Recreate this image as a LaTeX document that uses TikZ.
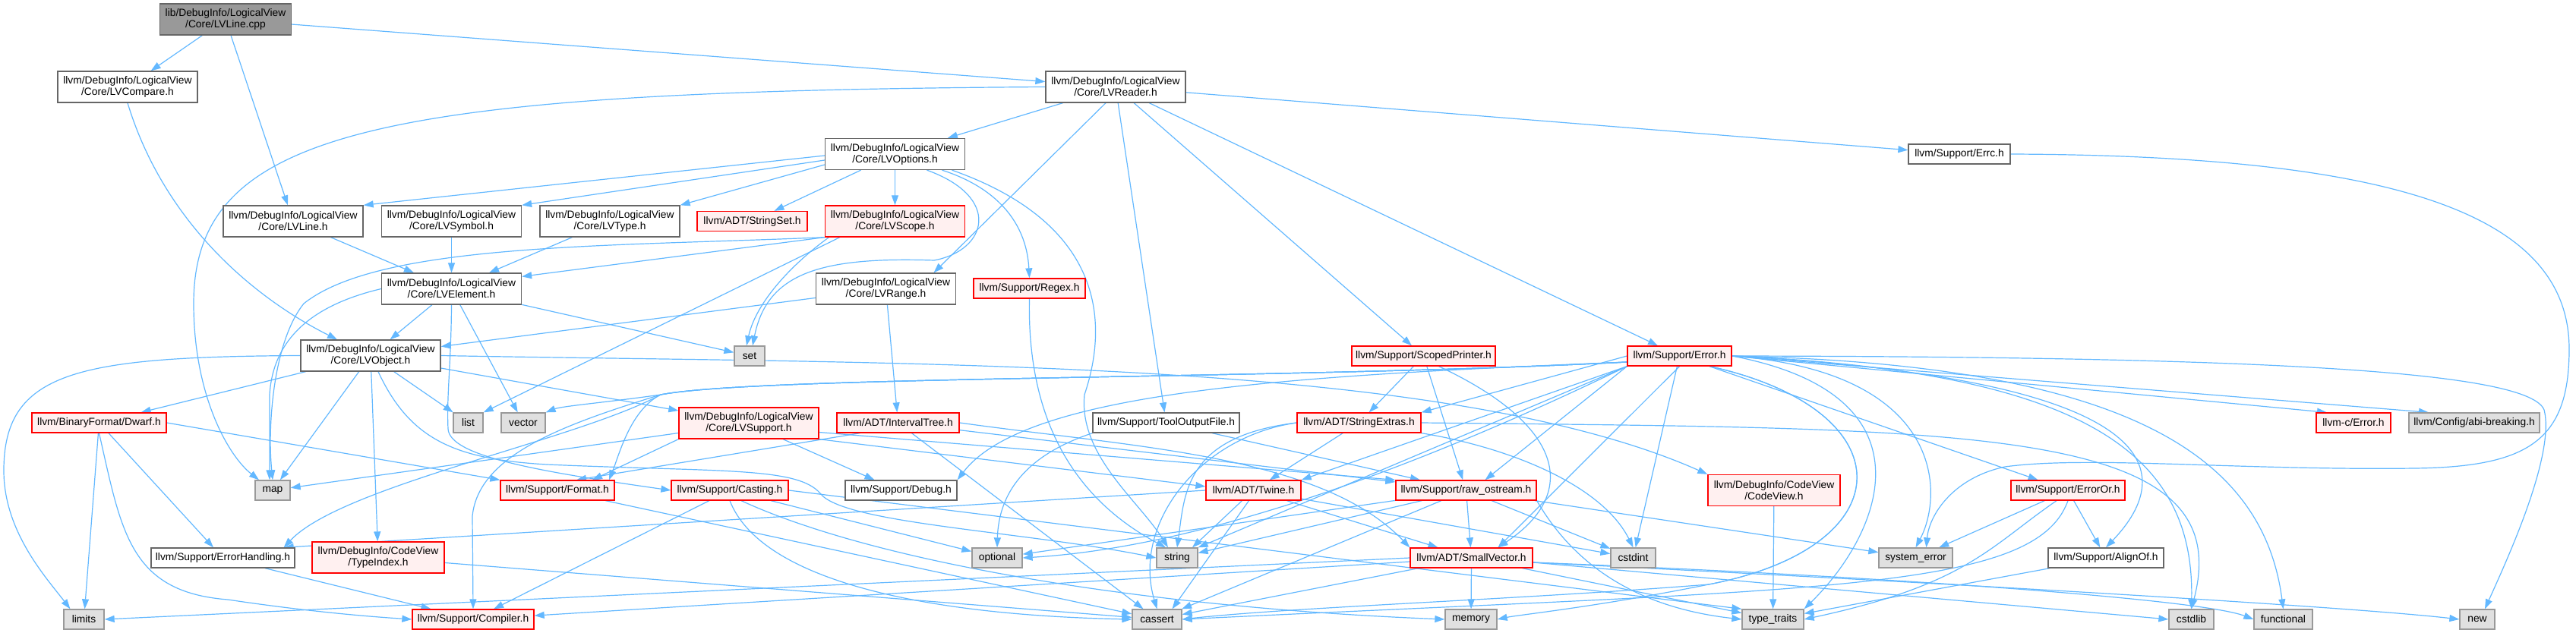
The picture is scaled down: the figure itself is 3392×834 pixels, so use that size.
\documentclass[tikz,border=0pt]{standalone}
\usepackage{fontspec}
\setmainfont{Liberation Sans}
\usetikzlibrary{arrows.meta}
\pgfdeclarelayer{bg}
\pgfsetlayers{bg,main}
\definecolor{edgec}{HTML}{63B8FF}
\definecolor{redfill}{HTML}{FFF0F0}
\definecolor{graybg}{HTML}{E0E0E0}
\definecolor{grayline}{HTML}{999999}
\definecolor{darkline}{HTML}{666666}
\definecolor{rootfill}{HTML}{999999}
\tikzset{
 nd/.style={rectangle, line width=1.3pt, inner sep=0pt, align=center, font=\fontsize{13.8pt}{15pt}\selectfont, text=black},
 wn/.style={nd, fill=white, draw=darkline},
 rn/.style={nd, fill=redfill, draw=red},
 gn/.style={nd, fill=graybg, draw=grayline},
 rootn/.style={nd, fill=rootfill, draw=darkline},
 two/.style={minimum width=184pt, minimum height=41pt},
 one/.style={minimum height=26pt, minimum width=#1},
 e/.style={draw=edgec, line width=1.2pt, -{Triangle[length=13pt,width=9pt]}},
}
\begin{document}
\begin{tikzpicture}[x=1pt,y=-1pt]
\useasboundingbox (0,0) rectangle (3392,834);
% nodes
\node[rootn, minimum width=173pt, minimum height=41pt] (cpp) at (297,25.5) {lib/DebugInfo/LogicalView\\/Core/LVLine.cpp};
\node[wn,two] (cmp) at (168,114.5) {llvm/DebugInfo/LogicalView\\/Core/LVCompare.h};
\node[wn,two] (reader) at (1469,114.5) {llvm/DebugInfo/LogicalView\\/Core/LVReader.h};
\node[wn,two] (options) at (1178.5,203) {llvm/DebugInfo/LogicalView\\/Core/LVOptions.h};
\node[wn,one=134pt] (errc) at (2580,203) {llvm/Support/Errc.h};
\node[wn,two] (lvline) at (386,291.5) {llvm/DebugInfo/LogicalView\\/Core/LVLine.h};
\node[wn,two] (symbol) at (594.5,291.5) {llvm/DebugInfo/LogicalView\\/Core/LVSymbol.h};
\node[wn,two] (type) at (803,291.5) {llvm/DebugInfo/LogicalView\\/Core/LVType.h};
\node[rn,one=145pt] (strset) at (990.5,291.5) {llvm/ADT/StringSet.h};
\node[rn,two] (scope) at (1178.5,291.5) {llvm/DebugInfo/LogicalView\\/Core/LVScope.h};
\node[wn,two] (element) at (594.5,380.5) {llvm/DebugInfo/LogicalView\\/Core/LVElement.h};
\node[wn,two] (range) at (1166.5,380.5) {llvm/DebugInfo/LogicalView\\/Core/LVRange.h};
\node[rn,one=147pt] (regex) at (1355.5,380) {llvm/Support/Regex.h};
\node[wn,two] (object) at (488,468.5) {llvm/DebugInfo/LogicalView\\/Core/LVObject.h};
\node[gn,one=40pt] (set) at (987,469) {set};
\node[rn,one=189pt] (scoped) at (1874.5,469) {llvm/Support/ScopedPrinter.h};
\node[rn,one=137pt] (error) at (2211.5,469) {llvm/Support/Error.h};
\node[rn,one=177pt] (dwarf) at (130.5,557) {llvm/BinaryFormat/Dwarf.h};
\node[gn,one=39pt] (list) at (616.5,557) {list};
\node[gn,one=58pt] (vector) at (689,557) {vector};
\node[rn,two] (support) at (986,557.5) {llvm/DebugInfo/LogicalView\\/Core/LVSupport.h};
\node[rn,one=161pt] (interval) at (1182.5,557) {llvm/ADT/IntervalTree.h};
\node[wn,one=193pt] (tool) at (1535.5,557) {llvm/Support/ToolOutputFile.h};
\node[rn,one=163pt] (strext) at (1789.5,557) {llvm/ADT/StringExtras.h};
\node[rn,one=98pt] (cerror) at (3099,557) {llvm-c/Error.h};
\node[gn,one=172pt] (abi) at (3258,557) {llvm/Config/abi-breaking.h};
\node[gn,one=46pt] (map) at (359,646) {map};
\node[rn,one=150pt] (format) at (734,646) {llvm/Support/Format.h};
\node[rn,one=154pt] (casting) at (961,646) {llvm/Support/Casting.h};
\node[wn,one=147pt] (debug) at (1186.5,646) {llvm/Support/Debug.h};
\node[rn,one=125pt] (twine) at (1650.5,646) {llvm/ADT/Twine.h};
\node[rn,one=185pt] (raw) at (1930.5,646) {llvm/Support/raw\_ostream.h};
\node[rn,minimum width=174pt,minimum height=41pt] (codeview) at (2336,646) {llvm/DebugInfo/CodeView\\/CodeView.h};
\node[rn,one=150pt] (erroror) at (2723,646) {llvm/Support/ErrorOr.h};
\node[wn,one=189pt] (errh) at (293.5,735) {llvm/Support/ErrorHandling.h};
\node[rn,minimum width=174pt,minimum height=41pt] (typeidx) at (498,734.5) {llvm/DebugInfo/CodeView\\/TypeIndex.h};
\node[gn,one=66pt] (optional) at (1313,735) {optional};
\node[gn,one=54pt] (string) at (1550,735) {string};
\node[rn,one=161pt] (small) at (1937.5,735) {llvm/ADT/SmallVector.h};
\node[gn,one=59pt] (cstdint) at (2150.5,735) {cstdint};
\node[gn,one=97pt] (syserr) at (2522.5,735) {system\_error};
\node[wn,one=152pt] (alignof) at (2773,735) {llvm/Support/AlignOf.h};
\node[gn,one=53pt] (limits) at (110.5,816) {limits};
\node[rn,one=160pt] (compiler) at (623,816) {llvm/Support/Compiler.h};
\node[gn,one=65pt] (cassert) at (1523.5,816) {cassert};
\node[gn,one=68pt] (memory) at (1937,816) {memory};
\node[gn,one=81pt] (ttraits) at (2334.5,816) {type\_traits};
\node[gn,one=59pt] (cstdlib) at (2885.5,816) {cstdlib};
\node[gn,one=77pt] (functional) at (3006.5,816) {functional};
\node[gn,one=46pt] (new) at (3262,816) {new};
% edges
\begin{pgfonlayer}{bg}
\draw[e] (cpp) -- (cmp);
\draw[e] (cpp) -- (lvline);
\draw[e] (cpp) -- (reader);
\draw[e] (cmp.south) .. controls (215,290) and (330,390) .. ([xshift=-44pt]object.north);
\draw[e] (reader) -- (options);
\draw[e] ([xshift=-13pt]reader.south) -- ([xshift=63pt]range.north);
\draw[e] (reader) -- (errc);
\draw[e] (reader) -- (error);
\draw[e] (reader) -- (scoped);
\draw[e] (reader) -- (tool);
\draw[e] (reader.west) .. controls (500,120) and (255,170) .. (255,400) .. controls (255,520) and (300,600) .. ([xshift=-18pt]map.north);
\draw[e] ([yshift=-2pt]options.west) -- (lvline.north east);
\draw[e] ([yshift=-8pt]options.west) -- (symbol.north east);
\draw[e] ([yshift=-14pt]options.west) -- (type.north east);
\draw[e] (options) -- (strset);
\draw[e] (options) -- (scope);
\draw[e] ([xshift=62pt]options.south) .. controls (1320,250) and (1352,300) .. (regex.north);
\draw[e] ([xshift=42pt]options.south) .. controls (1320,260) and (1300,330) .. (1230,343) .. controls (1080,338) and (1010,360) .. ([xshift=4pt]set.north);
\draw[e] ([xshift=75pt]options.south) .. controls (1440,290) and (1465,410) .. (1428,520) .. controls (1420,600) and (1500,660) .. ([xshift=-12pt]string.north);
\draw[e] (lvline) -- (element);
\draw[e] (symbol) -- (element);
\draw[e] (type) -- (element);
\draw[e] (scope.south west) -- ([yshift=-5pt]element.north east);
\draw[e] ([xshift=20pt]scope.south west) -- (list.north east);
\draw[e] (scope.south west) .. controls (800,325) and (500,320) .. (400,400) .. controls (360,450) and (352,560) .. (map.north);
\draw[e] ([xshift=-87pt]scope.south) .. controls (1040,350) and (995,400) .. ([xshift=-4pt]set.north);
\draw[e] (element) -- (object);
\draw[e] (element) -- (vector);
\draw[e] (element) -- (set);
\draw[e] (element.west) .. controls (420,400) and (360,440) .. (355,520) -- ([xshift=-4pt]map.north);
\draw[e] (element.south) .. controls (594,480) and (588,520) .. (590,565) .. controls (592,600) and (700,620) .. (casting.west);
\draw[e] (range) -- (interval);
\draw[e] (range) -- (object);
\draw[e] (regex.south) .. controls (1352,560) and (1420,660) .. ([xshift=-15pt]string.north);
\draw[e] (errc.east) .. controls (3150,205) and (3383,280) .. (3383,460) .. controls (3383,580) and (3330,615) .. (3180,617) .. controls (2950,620) and (2750,600) .. (2640,615) .. controls (2570,630) and (2540,680) .. ([xshift=14pt]syserr.north);
% LVObject
\draw[e] (object.west) .. controls (100,470) and (5,490) .. (5,620) .. controls (5,700) and (60,760) .. ([xshift=-18pt]limits.north);
\draw[e] (object) -- (dwarf);
\draw[e] (object) -- (list);
\draw[e] (object) -- (map);
\draw[e] (object) -- (typeidx);
\draw[e] (object) -- (support);
\draw[e] ([xshift=10pt]object.south) .. controls (540,580) and (600,605) .. (720,612) .. controls (950,622) and (1050,615) .. (1080,650) .. controls (1110,690) and (1350,700) .. (string.west);
\draw[e] (object.east) .. controls (1200,480) and (1900,470) .. (codeview.north west);
% Dwarf
\draw[e] (dwarf) -- (limits);
\draw[e] (dwarf) -- (errh);
\draw[e] (dwarf.east) -- (format.north west);
\draw[e] (dwarf.south) .. controls (160,700) and (170,780) .. (300,790) .. controls (400,805) and (480,812) .. (compiler.west);
% LVSupport
\draw[e] (support) -- (map);
\draw[e] (support.south west) -- ([xshift=46pt]format.north);
\draw[e] ([xshift=45pt]support.south) -- ([xshift=-35pt]debug.north);
\draw[e] (support.south east) -- ([yshift=5pt]twine.west);
\draw[e] ([yshift=-12pt]support.east) -- (raw.north west);
% IntervalTree
\draw[e] ([xshift=-50pt]interval.south) -- ([xshift=25pt]format.north);
\draw[e] (interval) -- (raw);
\draw[e] (interval.east) .. controls (1500,590) and (1740,600) .. (small.north west);
\draw[e] (interval) -- (cassert);
% ToolOutputFile
\draw[e] (tool.south west) .. controls (1350,600) and (1315,650) .. (optional.north);
\draw[e] (tool) -- (raw);
% ScopedPrinter
\draw[e] (scoped) -- (strext);
\draw[e] (scoped) -- (raw);
\draw[e] ([xshift=20pt]scoped.south) .. controls (2060,560) and (2080,650) .. ([xshift=35pt]small.north);
% Error
\draw[e] (error.east) -- ([xshift=-35pt]cerror.north);
\draw[e] (error.east) -- ([xshift=-60pt]abi.north);
\draw[e] (error.east) .. controls (3000,470) and (3330,490) .. (3350,540) .. controls (3365,600) and (3300,740) .. ([xshift=10pt]new.north);
\draw[e] (error.east) .. controls (2800,480) and (2980,600) .. (functional.north);
\draw[e] (error.east) .. controls (2750,490) and (2890,600) .. (cstdlib.north);
\draw[e] (error.east) .. controls (2850,500) and (2870,620) .. (alignof.north);
\draw[e] (error) -- (erroror);
\draw[e] (error.east) .. controls (2560,490) and (2560,650) .. (syserr.north);
\draw[e] (error.east) .. controls (2550,520) and (2480,700) .. (ttraits.north east);
\draw[e] ([xshift=40pt]error.south) .. controls (2510,540) and (2510,720) .. (2250,770) .. controls (2100,800) and (2000,810) .. (memory.east);
\draw[e] ([xshift=40pt]error.south) .. controls (2510,540) and (2510,720) .. (2250,770) .. controls (2000,790) and (1700,800) .. (cassert.east);
\draw[e] (error) -- (cstdint);
\draw[e] (error.south) -- ([xshift=35pt]small.north);
\draw[e] (error.south west) -- ([xshift=25pt]raw.north);
\draw[e] (error.west) -- (strext.north east);
\draw[e] (error.south west) -- (twine.north east);
\draw[e] (error.south west) -- (string.north east);
\draw[e] (error.south west) .. controls (1900,600) and (1600,720) .. (optional.east);
\draw[e] ([yshift=-8pt]error.west) .. controls (1700,495) and (1350,515) .. (debug.north east);
\draw[e] ([yshift=-8pt]error.west) .. controls (1700,500) and (1000,495) .. (870,520) .. controls (800,530) and (740,535) .. (vector.north east);
\draw[e] ([yshift=-8pt]error.west) .. controls (1700,500) and (1000,495) .. (870,520) .. controls (830,540) and (815,600) .. ([xshift=68pt]format.north);
\draw[e] ([yshift=-8pt]error.west) .. controls (1700,500) and (1000,495) .. (870,520) .. controls (760,580) and (450,640) .. ([xshift=-15pt]errh.north east);
\draw[e] ([yshift=-8pt]error.west) .. controls (1700,500) and (1000,495) .. (870,520) .. controls (740,560) and (630,600) .. (622,680) -- (compiler.north);
% StringExtras
\draw[e] (strext) -- (twine);
\draw[e] (strext.south east) .. controls (1990,590) and (2110,640) .. (cstdint.north);
\draw[e] (strext.east) .. controls (2600,565) and (2950,560) .. (cstdlib.north);
\draw[e] (strext.west) .. controls (1560,575) and (1560,650) .. (string.north);
\draw[e] (strext.west) .. controls (1580,575) and (1490,690) .. (cassert.north);
% Twine
\draw[e] (twine.west) -- ([xshift=-15pt]errh.north east);
\draw[e] ([xshift=-6pt]twine.south) -- ([xshift=20pt]cassert.north);
\draw[e] ([xshift=-15pt]twine.south) -- ([xshift=20pt]string.north);
\draw[e] (twine) -- (small);
\draw[e] (twine) -- (cstdint);
% raw_ostream
\draw[e] (raw) -- (small);
\draw[e] (raw) -- (cstdint);
\draw[e] (raw) -- (syserr);
\draw[e] (raw.south east) .. controls (2070,740) and (2150,800) .. (ttraits.west);
\draw[e] (raw) -- (cassert);
\draw[e] (raw) -- (optional);
\draw[e] (raw) -- (string);
% SmallVector
\draw[e] (small) -- (compiler);
\draw[e] (small.west) -- (limits.east);
\draw[e] (small) -- (cassert);
\draw[e] (small) -- (memory);
\draw[e] (small) -- (ttraits);
\draw[e] ([yshift=-6pt]small.east) -- (cstdlib.west);
\draw[e] ([yshift=-6pt]small.east) .. controls (2500,760) and (2900,790) .. (functional.west);
\draw[e] ([yshift=-6pt]small.east) .. controls (2600,770) and (3100,800) .. (new.west);
% Casting
\draw[e] (casting) -- (compiler);
\draw[e] (casting.south) .. controls (1000,760) and (1200,810) .. (cassert.west);
\draw[e] ([xshift=15pt]casting.south) .. controls (1150,740) and (1500,800) .. (memory.west);
\draw[e] (casting) -- (optional);
\draw[e] (casting.east) -- (ttraits.north west);
% others
\draw[e] (format) -- (cassert);
\draw[e] (typeidx) -- (cassert);
\draw[e] (errh) -- (compiler);
\draw[e] (codeview) -- (ttraits);
\draw[e] (alignof) -- (ttraits);
\draw[e] (erroror) -- (syserr);
\draw[e] (erroror) -- (alignof);
\draw[e] ([xshift=-15pt]erroror.south) .. controls (2620,720) and (2590,770) .. (ttraits.east);
\draw[e] (erroror.south) .. controls (2680,780) and (2400,775) .. (cassert.east);
\end{pgfonlayer}
\end{tikzpicture}
\end{document}
